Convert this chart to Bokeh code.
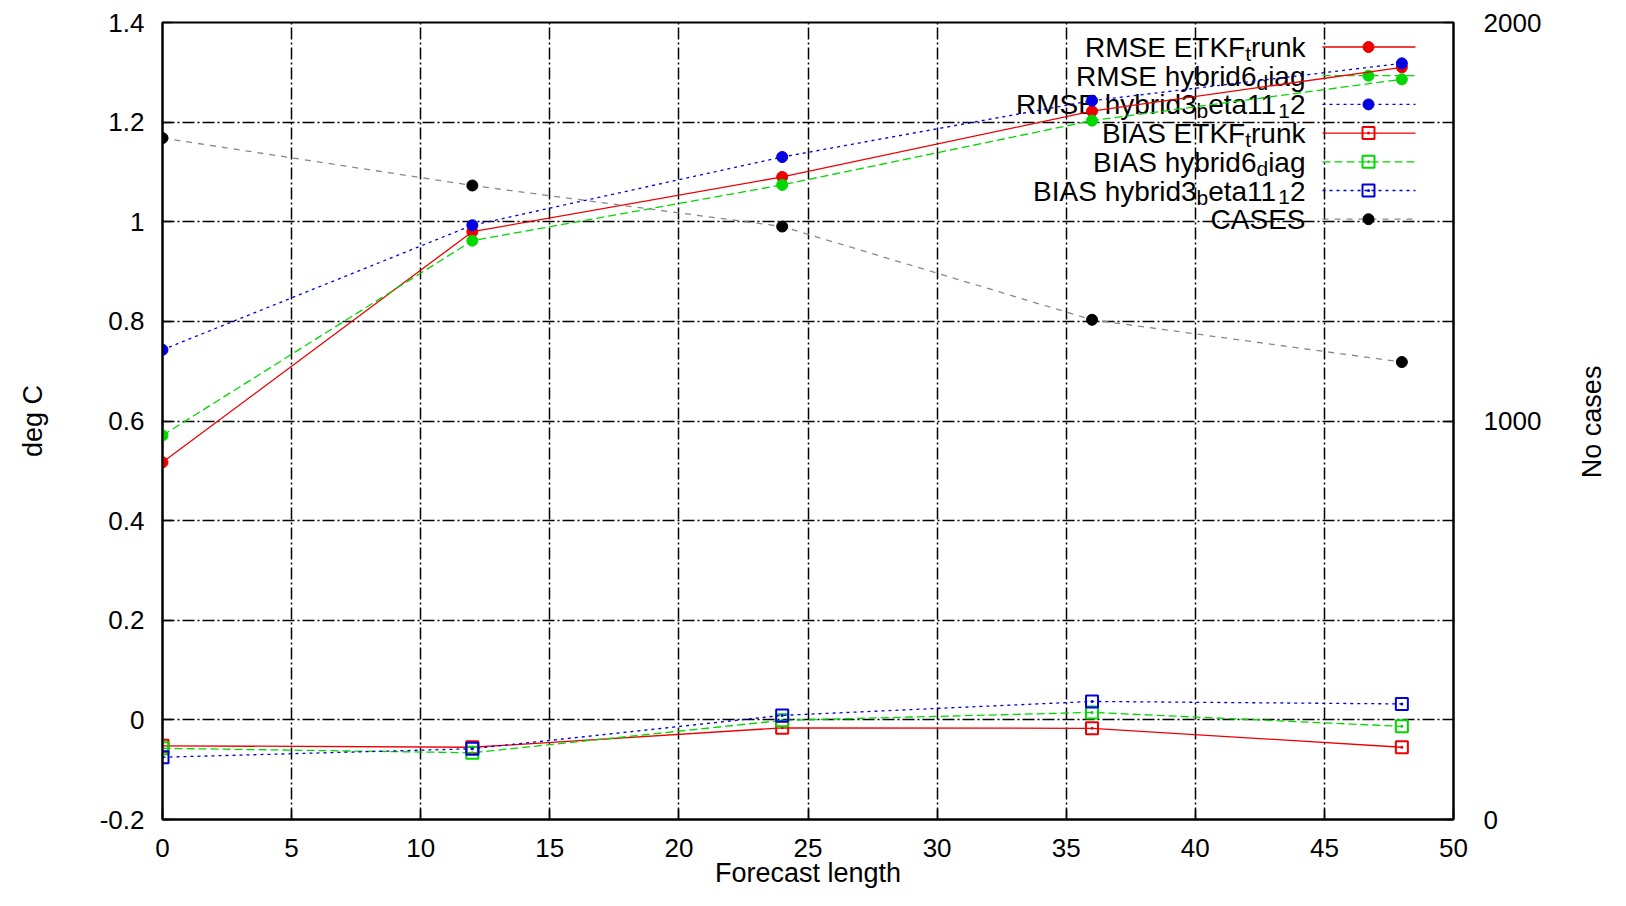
import math
from bokeh.plotting import figure
from bokeh.layouts import row
from bokeh.models import Range1d, LinearAxis, FixedTicker
from bokeh.embed import file_html
from bokeh.resources import INLINE
from bokeh.core.properties import value

# ---------------- data ----------------
forecast_length = [0, 12, 24, 36, 48]
rmse_etkf_trunk = [0.517, 0.98, 1.09, 1.222, 1.31]
rmse_hybrid6_diag = [0.571, 0.962, 1.074, 1.203, 1.286]
rmse_hybrid3_beta11_12 = [0.743, 0.993, 1.13, 1.243, 1.318]
bias_etkf_trunk = [-0.052, -0.055, -0.016, -0.017, -0.055]
bias_hybrid6_diag = [-0.057, -0.066, -0.001, 0.015, -0.013]
bias_hybrid3_beta11_12 = [-0.075, -0.058, 0.009, 0.037, 0.032]
cases = [1710, 1591, 1488, 1254, 1148]

x_ticks = [0, 5, 10, 15, 20, 25, 30, 35, 40, 45, 50]
y_ticks = [-0.2, 0.0, 0.2, 0.4, 0.6, 0.8, 1.0, 1.2, 1.4]
y_tick_labels = ["-0.2", "0", "0.2", "0.4", "0.6", "0.8", "1", "1.2", "1.4"]
cases_ticks = [0, 1000, 2000]
cases_tick_labels = ["0", "1000", "2000"]

x_title = "Forecast length"
y_title = "deg C"
y2_title = "No cases"

# legend labels: (text, is_subscript)
legend_labels = [
    [("RMSE ETKF", 0), ("t", 1), ("runk", 0)],
    [("RMSE hybrid6", 0), ("d", 1), ("iag", 0)],
    [("RMSE hybrid3", 0), ("b", 1), ("eta11", 0), ("1", 1), ("2", 0)],
    [("BIAS ETKF", 0), ("t", 1), ("runk", 0)],
    [("BIAS hybrid6", 0), ("d", 1), ("iag", 0)],
    [("BIAS hybrid3", 0), ("b", 1), ("eta11", 0), ("1", 1), ("2", 0)],
    [("CASES", 0)],
]

# ---------------- styles ----------------
FONT = "Liberation Sans"
RED, GREEN, BLUE = "#ee0000", "#00d800", "#0000e0"
CASES_LINE = "#888888"
series = [
    # values, color, dash, marker, axis
    (rmse_etkf_trunk, RED, "solid", "circle", "default"),
    (rmse_hybrid6_diag, GREEN, "8 4", "circle", "default"),
    (rmse_hybrid3_beta11_12, BLUE, "3 4", "circle", "default"),
    (bias_etkf_trunk, RED, "solid", "square_dot", "default"),
    (bias_hybrid6_diag, GREEN, "8 4", "square_dot", "default"),
    (bias_hybrid3_beta11_12, BLUE, "3 4", "square_dot", "default"),
    (cases, "black", "6 6", "circle", "cases"),
]

W_TOTAL, H = 1610, 890
W_SIDE = 50                 # narrow strip that carries the right-hand title
W = W_TOTAL - W_SIDE
FL, FR, FT, FB = 162, 1453, 22, 819  # frame edges in canvas px
X0, X1, Y0, Y1 = 0, 50, -0.2, 1.4


def data_x(px):
    return X0 + (px - FL) / (FR - FL) * (X1 - X0)


def data_y(py):
    return Y1 - (py - FT) / (FB - FT) * (Y1 - Y0)


ARIAL = {' ': 278, ',': 278, '1': 556, '2': 556, '3': 556, '6': 556,
         'A': 667, 'B': 667, 'C': 722, 'E': 667, 'F': 611, 'I': 278,
         'K': 667, 'M': 833, 'R': 722, 'S': 667, 'T': 611,
         'a': 556, 'b': 556, 'd': 556, 'e': 556, 'g': 556, 'h': 556,
         'i': 222, 'k': 500, 'n': 556, 'r': 333, 't': 278, 'u': 556, 'y': 500}


def text_w(s, size):
    return sum(ARIAL.get(c, 556) for c in s) / 1000.0 * size


p = figure(width=W, height=H, x_range=Range1d(X0, X1), y_range=Range1d(Y0, Y1),
           output_backend="svg", toolbar_location=None,
           min_border_left=FL, min_border_right=W - FR,
           min_border_top=FT, min_border_bottom=H - FB,
           background_fill_color="white", border_fill_color="white",
           outline_line_color="black", outline_line_width=2)
p.extra_y_ranges = {"cases": Range1d(0, 2000)}


def style_axis(ax, standoff):
    ax.axis_line_color = "black"
    ax.axis_line_width = 2
    ax.major_tick_in = 10
    ax.major_tick_out = 0
    ax.major_tick_line_color = "black"
    ax.major_tick_line_width = 1.5
    ax.minor_tick_line_color = None
    ax.major_label_standoff = standoff
    ax.major_label_text_font = FONT
    ax.major_label_text_font_size = "26px"
    ax.major_label_text_color = "black"
    ax.axis_label_text_font = FONT
    ax.axis_label_text_font_size = "27px"
    ax.axis_label_text_font_style = "normal"
    ax.axis_label_text_color = "black"


xa = p.xaxis[0]
xa.ticker = FixedTicker(ticks=x_ticks)
xa.axis_label = x_title
style_axis(xa, 19)
xa.axis_label_standoff = -2

ya = p.yaxis[0]
ya.ticker = FixedTicker(ticks=y_ticks)
ya.major_label_overrides = dict(zip(y_ticks, y_tick_labels))
ya.axis_label = y_title
style_axis(ya, 18)
ya.axis_label_standoff = 49

ra = LinearAxis(y_range_name="cases", ticker=FixedTicker(ticks=cases_ticks))
ra.major_label_overrides = dict(zip(cases_ticks, cases_tick_labels))
style_axis(ra, 30)
p.add_layout(ra, "right")

for g in (p.xgrid[0], p.ygrid[0]):
    g.grid_line_color = "black"
    g.grid_line_width = 1.5
    g.grid_line_dash = "12 3 2 3"
p.xgrid[0].ticker = FixedTicker(ticks=x_ticks)
p.ygrid[0].ticker = FixedTicker(ticks=y_ticks)

# ---------------- legend (drawn under the data, over the grid) ----------------
TEXT_RIGHT = 1305
ROW0, ROW_STEP = 46.5, 28.7
BASE_OFF, SUB_OFF = 0.5, 6
MAIN_SIZE, SUB_SIZE = 28, 21
SAMPLE_X0, SAMPLE_X1, MARK_X = 1322, 1415, 1368

widest = max(sum(text_w(t, SUB_SIZE if s else MAIN_SIZE) for t, s in pieces)
             for pieces in legend_labels)
box_left = TEXT_RIGHT - widest - 8
cases_left = TEXT_RIGHT - text_w("CASES", MAIN_SIZE) - 8
box_split = ROW0 + ROW_STEP * 5.5
box_bottom = ROW0 + ROW_STEP * 6.6
p.quad(left=[data_x(box_left), data_x(cases_left)],
       right=[data_x(1420), data_x(1420)],
       top=[data_y(ROW0 - 18), data_y(box_split)],
       bottom=[data_y(box_split), data_y(box_bottom)],
       fill_color="white", line_color=None, level="underlay")

for i, pieces in enumerate(legend_labels):
    row_y = ROW0 + ROW_STEP * i
    widths = [text_w(t, SUB_SIZE if sub else MAIN_SIZE) for t, sub in pieces]
    x = TEXT_RIGHT - sum(widths)
    for (t, sub), w in zip(pieces, widths):
        by = row_y + BASE_OFF + (SUB_OFF if sub else 0)
        p.text(x=[data_x(x)], y=[data_y(by)], text=[t],
               text_font=value(FONT),
               text_font_size="%dpx" % (SUB_SIZE if sub else MAIN_SIZE),
               text_align="left", text_baseline="alphabetic", text_color="black")
        x += w
    vals, color, dash, marker, axis = series[i]
    lc = CASES_LINE if axis == "cases" else color
    p.line([data_x(SAMPLE_X0), data_x(SAMPLE_X1)], [data_y(row_y), data_y(row_y)],
           line_color=lc, line_dash=dash, line_width=1.3)
    if marker == "circle":
        p.scatter([data_x(MARK_X)], [data_y(row_y)], marker="circle", size=11,
                  fill_color=color, line_color=color)
    else:
        p.scatter([data_x(MARK_X)], [data_y(row_y)], marker="square_dot", size=12,
                  fill_color=None, line_color=color, line_width=2)

# ---------------- data ----------------
for vals, color, dash, marker, axis in series:
    lc = CASES_LINE if axis == "cases" else color
    p.line(forecast_length, vals, line_color=lc, line_dash=dash, line_width=1.3,
           y_range_name=axis)
    if marker == "circle":
        p.scatter(forecast_length, vals, marker="circle", size=11,
                  fill_color=color, line_color=color, y_range_name=axis)
    else:
        p.scatter(forecast_length, vals, marker="square_dot", size=12,
                  fill_color=None, line_color=color, line_width=2,
                  y_range_name=axis)

# ---------------- right-hand title strip ----------------
side = figure(width=W_SIDE, height=H, x_range=Range1d(0, W_SIDE),
              y_range=Range1d(H, 0), output_backend="svg", toolbar_location=None,
              min_border=0, outline_line_color=None,
              background_fill_color="white", border_fill_color="white")
side.axis.visible = False
side.grid.visible = False
side.text(x=[1591 - W], y=[446], text=[y2_title], angle=math.pi / 2,
          text_align="center", text_baseline="middle",
          text_font=value(FONT), text_font_size="27px", text_color="black")

layout = row(p, side, spacing=0)
open("out.html", "w").write(file_html(layout, INLINE))
